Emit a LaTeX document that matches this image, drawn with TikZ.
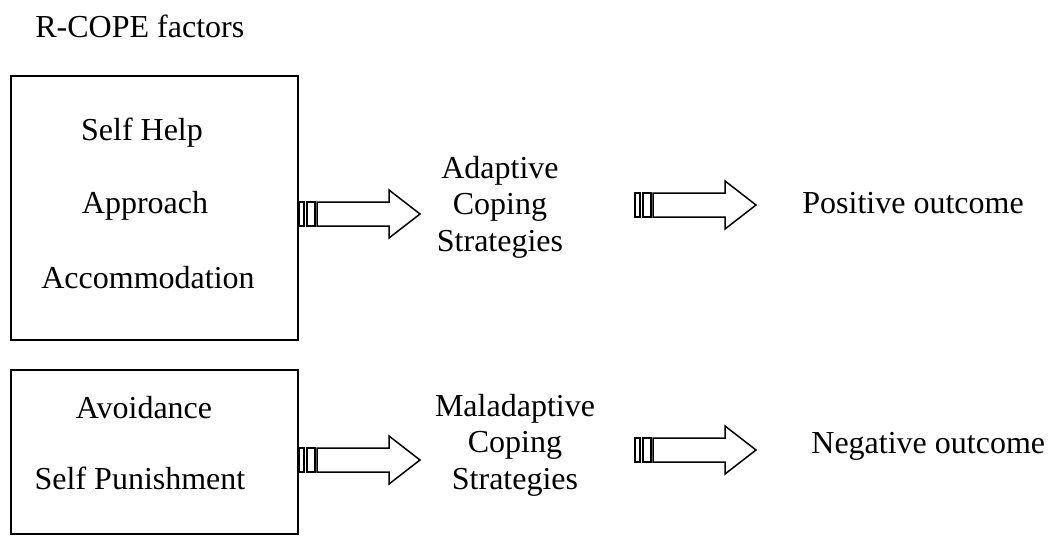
\documentclass[tikz,border=0pt]{standalone}
\usepackage{fontspec}
\setmainfont{Liberation Serif}
\usetikzlibrary{positioning}

\begin{document}
\begin{tikzpicture}[
    x=0.5pt, y=-0.5pt,
    every node/.style={font=\fontsize{16}{18.2}\selectfont, inner sep=0pt},
    factorbox/.style={draw, line width=1pt, minimum width=143.5pt, minimum height=132pt},
    item/.style={anchor=base},
    sidetext/.style={anchor=base west},
    stack/.style={align=center},
    arrowline/.style={draw, line width=0.75pt, line join=miter},
    blockarrow/.pic={
        \path[arrowline] (0,-12) rectangle (5,12);
        \path[arrowline] (8,-12) rectangle (16,12);
        \path[arrowline] (18,-12) -- (90,-12) -- (90,-24) -- (121,0)
            -- (90,24) -- (90,12) -- (18,12) -- cycle;
    }
]
    \useasboundingbox (0,0) rectangle (1049,536);

    \node[sidetext] (title) at (35,37) {R-COPE factors};

    % adaptive row
    \node[factorbox] (adaptbox) at (154.5,208) {};
    \node[item] (selfhelp) at (142,140) {Self Help};
    \node[item] (approach) at (145,213) {Approach};
    \node[item] (accom) at (148,288) {Accommodation};

    \node[stack] (adaptive) at (500,207) {Adaptive\\Coping\\Strategies};
    \node[sidetext] (positive) at (802,213) {Positive outcome};

    \pic (arrA) at (adaptbox.east |- 0,214) {blockarrow};
    \pic (arrB) at (635,205) {blockarrow};

    % maladaptive row
    \node[factorbox, minimum height=82pt] (maladbox) at (154.5,452) {};
    \node[item] (avoid) at (144,418) {Avoidance};
    \node[item] (punish) at (140,489) {Self Punishment};

    \node[stack] (maladaptive) at (515,445) {Maladaptive\\Coping\\Strategies};
    \node[sidetext] (negative) at (811,453) {Negative outcome};

    \pic (arrC) at (maladbox.east |- 0,460) {blockarrow};
    \pic (arrD) at (635,450) {blockarrow};
\end{tikzpicture}
\end{document}
